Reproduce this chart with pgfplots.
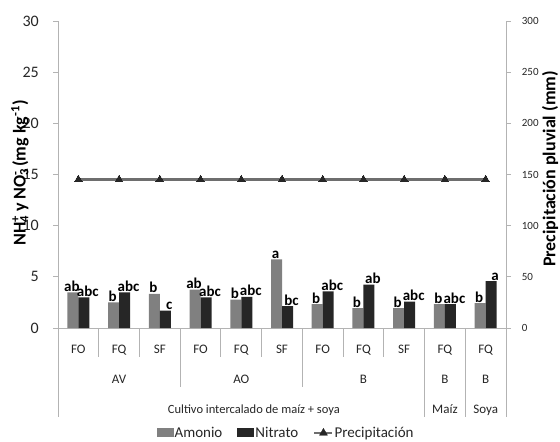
\documentclass[border=0pt]{standalone}
\usepackage{fontspec}
\setmainfont{Carlito}
\usepackage{pgfplots}
\pgfplotsset{compat=1.18}
\definecolor{amon}{HTML}{808080}
\definecolor{nitr}{HTML}{262626}
\definecolor{axg}{HTML}{B3B3B3}
\definecolor{lineg}{HTML}{6E6E6E}
\definecolor{txt}{HTML}{262626}
\newcommand{\fs}[1]{\fontsize{#1pt}{#1pt}\selectfont}
\begin{document}
\begin{tikzpicture}
\path[use as bounding box] (0,0) rectangle (560pt,442pt);
\begin{axis}[
  at={(58pt,114pt)}, anchor=south west,
  scale only axis, width=448pt, height=307pt,
  xmin=-0.5, xmax=10.5, ymin=0, ymax=30,
  axis x line*=bottom, axis y line*=left,
  axis line style={axg, line width=0.9pt},
  ybar=0pt, bar width=11pt,
  xtick=\empty,
  ytick={0,5,...,30},
  tick align=outside, major tick length=5pt,
  ytick style={axg, line width=0.9pt},
  yticklabel style={font=\fs{16}, text=txt, inner sep=0pt, anchor=east, xshift=-14pt},
  /pgf/number format/assume math mode=true,
  clip=false,
  nodes near coords,
  point meta=explicit symbolic,
  every node near coord/.append style={font=\bfseries\fs{15}, text=black, anchor=base, inner sep=0pt, yshift=1pt},
  legend style={at={(0.508,-0.342)}, anchor=center, draw=none, fill=none, font=\fs{15}, text=txt, legend columns=3, inner sep=0pt, nodes={inner sep=1pt}, /tikz/every even column/.append style={column sep=14pt}},
]
\addplot[fill=amon, draw=none, every node near coord/.append style={xshift=-1pt},
  legend image code/.code={\fill[amon] (0pt,-4pt) rectangle (17pt,5pt);}] coordinates {
 (0,3.48)[ab] (1,2.5)[b] (2,3.33)[b] (3,3.74)[ab] (4,2.78)[b] (5,6.71)[a] (6,2.33)[b] (7,1.94)[b] (8,1.94)[b] (9,2.33)[b] (10,2.42)[b]};
\addlegendentry{Amonio}
\addplot[fill=nitr, draw=none, every node near coord/.append style={xshift=4pt},
  legend image code/.code={\fill[nitr] (0pt,-4pt) rectangle (17pt,5pt);}] coordinates {
 (0,3.0)[abc] (1,3.48)[abc] (2,1.71)[c] (3,3.0)[abc] (4,3.03)[abc] (5,2.13)[bc] (6,3.58)[abc] (7,4.23)[ab] (8,2.58)[abc] (9,2.33)[abc] (10,4.58)[a]};
\addlegendentry{Nitrato}
\addlegendimage{legend image code/.code={\draw[lineg, line width=2.3pt] (0pt,0pt) -- (18pt,0pt); \fill[nitr] (5pt,-2.3pt) -- (13pt,-2.3pt) -- (9pt,4.6pt) -- cycle;}}
\addlegendentry{Precipitación}
% separators
\draw[axg, line width=0.9pt] (axis cs:-0.5,0) -- ++(0pt,-89pt);
\draw[axg, line width=0.9pt] (axis cs:0.5,0) -- ++(0pt,-29pt);
\draw[axg, line width=0.9pt] (axis cs:1.5,0) -- ++(0pt,-29pt);
\draw[axg, line width=0.9pt] (axis cs:2.5,0) -- ++(0pt,-59pt);
\draw[axg, line width=0.9pt] (axis cs:3.5,0) -- ++(0pt,-29pt);
\draw[axg, line width=0.9pt] (axis cs:4.5,0) -- ++(0pt,-29pt);
\draw[axg, line width=0.9pt] (axis cs:5.5,0) -- ++(0pt,-59pt);
\draw[axg, line width=0.9pt] (axis cs:6.5,0) -- ++(0pt,-29pt);
\draw[axg, line width=0.9pt] (axis cs:7.5,0) -- ++(0pt,-29pt);
\draw[axg, line width=0.9pt] (axis cs:8.5,0) -- ++(0pt,-89pt);
\draw[axg, line width=0.9pt] (axis cs:9.5,0) -- ++(0pt,-89pt);
\draw[axg, line width=0.9pt] (axis cs:10.5,0) -- ++(0pt,-89pt);
% row 1
\node[font=\fs{13}, anchor=base, text=txt] at ([yshift=-25pt]axis cs:0,0) {FO};
\node[font=\fs{13}, anchor=base, text=txt] at ([yshift=-25pt]axis cs:1,0) {FQ};
\node[font=\fs{13}, anchor=base, text=txt] at ([yshift=-25pt]axis cs:2,0) {SF};
\node[font=\fs{13}, anchor=base, text=txt] at ([yshift=-25pt]axis cs:3,0) {FO};
\node[font=\fs{13}, anchor=base, text=txt] at ([yshift=-25pt]axis cs:4,0) {FQ};
\node[font=\fs{13}, anchor=base, text=txt] at ([yshift=-25pt]axis cs:5,0) {SF};
\node[font=\fs{13}, anchor=base, text=txt] at ([yshift=-25pt]axis cs:6,0) {FO};
\node[font=\fs{13}, anchor=base, text=txt] at ([yshift=-25pt]axis cs:7,0) {FQ};
\node[font=\fs{13}, anchor=base, text=txt] at ([yshift=-25pt]axis cs:8,0) {SF};
\node[font=\fs{13}, anchor=base, text=txt] at ([yshift=-25pt]axis cs:9,0) {FQ};
\node[font=\fs{13}, anchor=base, text=txt] at ([yshift=-25pt]axis cs:10,0) {FQ};
% row 2
\node[font=\fs{13}, anchor=base, text=txt] at ([yshift=-55pt]axis cs:1,0) {AV};
\node[font=\fs{13}, anchor=base, text=txt] at ([yshift=-55pt]axis cs:4,0) {AO};
\node[font=\fs{13}, anchor=base, text=txt] at ([yshift=-55pt]axis cs:7,0) {B};
\node[font=\fs{13}, anchor=base, text=txt] at ([yshift=-55pt]axis cs:9,0) {B};
\node[font=\fs{13}, anchor=base, text=txt] at ([yshift=-55pt]axis cs:10,0) {B};
% row 3
\node[font=\fs{12.5}, anchor=base, text=txt] at ([yshift=-85pt]axis cs:4.31,0) {Cultivo intercalado de maíz + soya};
\node[font=\fs{13}, anchor=base, text=txt] at ([yshift=-85pt]axis cs:9,0) {Maíz};
\node[font=\fs{13}, anchor=base, text=txt] at ([yshift=-85pt]axis cs:10,0) {Soya};
\end{axis}
\begin{axis}[
  at={(58pt,114pt)}, anchor=south west,
  scale only axis, width=448pt, height=307pt,
  xmin=-0.5, xmax=10.5, ymin=0, ymax=300,
  axis y line*=right, axis x line=none,
  axis line style={axg, line width=0.9pt},
  ytick={0,50,...,300}, tick align=outside, major tick length=5pt,
  ytick style={axg, line width=0.9pt},
  yticklabel style={font=\fs{11}, text=txt, inner sep=0pt, anchor=west, xshift=10.7pt},
  /pgf/number format/assume math mode=true,
  clip=false,
]
\addplot[lineg, line width=2.3pt, mark=triangle*, mark size=4.5pt, mark options={fill=nitr, draw=nitr, line width=0pt}] coordinates {
 (0,145) (1,145) (2,145) (3,145) (4,145) (5,145) (6,145) (7,145) (8,145) (9,145) (10,145)};
\end{axis}
\node[rotate=90, font=\bfseries\fs{18}, text=black] at (20pt,269pt) {NH\rlap{\textsubscript{4}}\textsuperscript{+} y NO\rlap{\textsubscript{3}}\textsuperscript{-} (mg kg\textsuperscript{-1})};
\node[rotate=90, font=\bfseries\fs{18}, text=black] at (550pt,273pt) {Precipitación pluvial (mm)};
\end{tikzpicture}
\end{document}
